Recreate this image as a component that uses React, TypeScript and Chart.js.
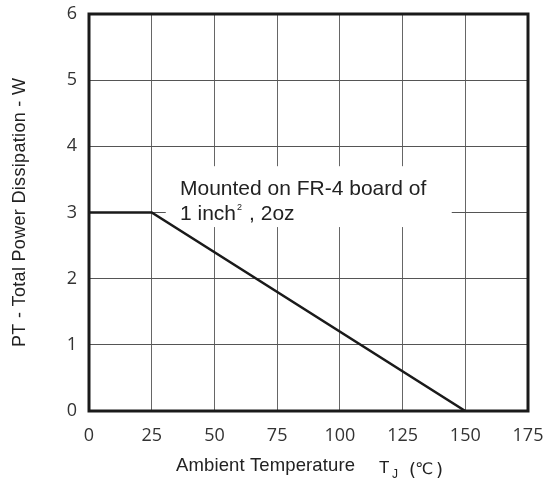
import React, { useEffect, useRef } from "react";
import { Chart, registerables } from "chart.js";

Chart.register(...registerables);

const temperatures = [0, 25, 150];
const powerW = [3, 3, 0];
const xTicks = [0, 25, 50, 75, 100, 125, 150, 175];
const yTicks = [0, 1, 2, 3, 4, 5, 6];
const noteLines = ["Mounted on FR-4 board of", "1 inch", ", 2oz"];
const yTitle = "PT - Total Power Dissipation - W";
const xTitle = "Ambient Temperature";

const SANS = "'Liberation Sans', Arial, sans-serif";

function fitText(ctx: any, text: string, x: number, y: number, width: number) {
  const n = text.length;
  ctx.letterSpacing = "0px";
  const w = ctx.measureText(text).width;
  const extra = n > 1 ? (width - w) / (n - 1) : 0;
  ctx.letterSpacing = extra.toFixed(2) + "px";
  ctx.fillText(text, x, y);
  ctx.letterSpacing = "0px";
}

const framePlugin = {
  id: "frame",
  beforeDatasetsDraw(chart: any) {
    const { ctx, scales } = chart;
    const x = scales.x, y = scales.y;
    const bx0 = x.getPixelForValue(30.6);
    const bx1 = x.getPixelForValue(144.6);
    const by0 = y.getPixelForValue(3.7);
    const by1 = y.getPixelForValue(2.78);
    ctx.save();
    ctx.fillStyle = "#ffffff";
    ctx.fillRect(bx0, by0, bx1 - bx0, by1 - by0);
    ctx.restore();
  },
  afterDraw(chart: any) {
    const { ctx, chartArea: a, scales } = chart;
    const y = scales.y;
    ctx.save();
    ctx.strokeStyle = "#1a1a1a";
    ctx.lineWidth = 3;
    ctx.strokeRect(a.left, a.top, a.right - a.left, a.bottom - a.top);

    // note text
    ctx.fillStyle = "#222";
    ctx.textBaseline = "alphabetic";
    ctx.textAlign = "left";
    ctx.font = "21px " + SANS;
    const tx = 180;
    ctx.fillText(noteLines[0], tx, y.getPixelForValue(3.27));
    const l2y = y.getPixelForValue(2.88);
    ctx.fillText(noteLines[1], tx, l2y);
    const w = ctx.measureText(noteLines[1]).width;
    ctx.font = "9px " + SANS;
    ctx.fillText("2", tx + w + 1, l2y - 10);
    ctx.font = "21px " + SANS;
    ctx.fillText(noteLines[2], tx + w + 13, l2y);

    // y title
    ctx.save();
    ctx.translate(25, 347);
    ctx.rotate(-Math.PI / 2);
    ctx.textAlign = "left";
    ctx.textBaseline = "alphabetic";
    ctx.font = "18px " + SANS;
    ctx.fillStyle = "#222";
    fitText(ctx, yTitle, 0, 0, 269);
    ctx.restore();

    // x title
    ctx.font = "18.5px " + SANS;
    ctx.fillStyle = "#222";
    ctx.textAlign = "left";
    ctx.textBaseline = "alphabetic";
    const base = 471;
    fitText(ctx, xTitle, 176, base, 179);
    ctx.font = "17px " + SANS;
    ctx.fillText("T", 379, base + 2);
    ctx.font = "12px " + SANS;
    ctx.fillText("J", 392, base + 7);
    ctx.font = "18px 'DejaVu Sans', sans-serif";
    ctx.fillText("(", 409, base + 5);
    ctx.font = "16px 'DejaVu Sans', sans-serif";
    ctx.fillText("℃", 415, base + 3);
    ctx.font = "18px 'DejaVu Sans', sans-serif";
    ctx.fillText(")", 436, base + 5);
    ctx.restore();
  },
};

export default function App() {
  const ref = useRef<HTMLCanvasElement>(null);
  useEffect(() => {
    document.body.style.margin = "0";
    const chart = new Chart(ref.current!, {
      type: "line",
      data: {
        datasets: [
          {
            data: temperatures.map((t, i) => ({ x: t, y: powerW[i] })),
            borderColor: "#1a1a1a",
            borderWidth: 2.5,
            pointRadius: 0,
            tension: 0,
            fill: false,
          },
        ],
      },
      options: {
        animation: false,
        responsive: false,
        layout: { padding: { top: 14, right: 17, left: 0, bottom: 0 } },
        plugins: { legend: { display: false }, tooltip: { enabled: false } },
        scales: {
          x: {
            type: "linear",
            min: 0,
            max: 175,
            afterBuildTicks(scale: any) {
              scale.ticks = xTicks.map((v) => ({ value: v }));
            },
            afterFit(scale: any) {
              scale.height = 74;
              scale.paddingLeft = 0;
              scale.paddingRight = 0;
            },
            grid: { color: "#666", lineWidth: 1, drawTicks: false },
            border: { display: false },
            ticks: {
              padding: 14,
              color: "#333",
              font: { family: "'Open Sans', sans-serif", size: 18 },
            },
          },
          y: {
            type: "linear",
            min: 0,
            max: 6,
            afterBuildTicks(scale: any) {
              scale.ticks = yTicks.map((v) => ({ value: v }));
            },
            afterFit(scale: any) {
              scale.width = 89;
              scale.paddingTop = 0;
              scale.paddingBottom = 0;
            },
            grid: { color: "#555", lineWidth: 1, drawTicks: false },
            border: { display: false },
            ticks: {
              padding: 12,
              color: "#333",
              font: { family: "'Open Sans', sans-serif", size: 18 },
            },
          },
        },
      },
      plugins: [framePlugin],
    } as any);
    return () => chart.destroy();
  }, []);
  return (
    <div style={{ position: "absolute", left: 0, top: 0, width: 545, height: 485 }}>
      <canvas ref={ref} width={545} height={485} style={{ width: 545, height: 485 }} />
    </div>
  );
}
